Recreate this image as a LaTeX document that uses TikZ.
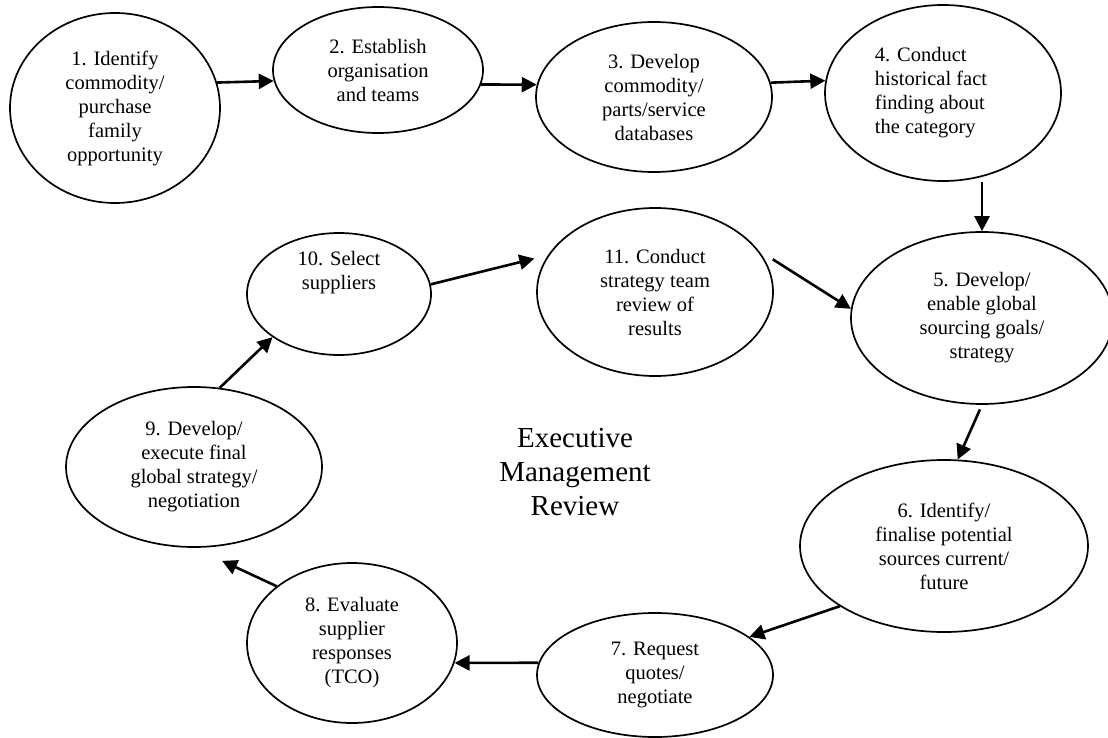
\documentclass[tikz,border=0pt]{standalone}
\usepackage{fontspec}
\setmainfont{Liberation Serif}
\usetikzlibrary{shapes.geometric,arrows.meta}
\begin{document}
\begin{tikzpicture}[x=1pt,y=-1pt,
  stage/.style={ellipse,draw,line width=1.7pt,inner sep=0pt,align=center,
    font=\fontsize{20.5}{24}\selectfont},
  flow/.style={line width=2.6pt,-{Triangle[length=15pt,width=15pt]}},
  hub/.style={align=center,font=\fontsize{29}{34}\selectfont}]
\useasboundingbox (0,0) rectangle (1108,738);
\clip (0,0) rectangle (1108,738);

% the eleven stages of the sourcing cycle
\node[stage,minimum width=210pt,minimum height=190pt] (s1) at (115,108)
  {1. Identify\\commodity/\\purchase\\family\\opportunity};
\node[stage,minimum width=210pt,minimum height=126pt] (s2) at (378,70)
  {2. Establish\\organisation\\and teams};
\node[stage,minimum width=236pt,minimum height=150pt] (s3) at (654,97)
  {3. Develop\\commodity/\\parts/service\\databases};
\node[stage,minimum width=236pt,minimum height=176pt,align=left] (s4) at (943,93)
  {4. Conduct\\historical fact\hspace*{24pt}\null\\finding about\\the category};
\node[stage,minimum width=262pt,minimum height=172pt] (s5) at (982,318)
  {5. Develop/\\enable global\\sourcing goals/\\strategy};
\node[stage,minimum width=288pt,minimum height=172pt] (s6) at (944,546)
  {6. Identify/\\finalise potential\\sources current/\\future};
\node[stage,minimum width=236pt,minimum height=124pt] (s7) at (655,675)
  {7. Request\\quotes/\\negotiate};
\node[stage,minimum width=210pt,minimum height=160pt] (s8) at (352,643)
  {8. Evaluate\\supplier\\responses\\(TCO)};
\node[stage,minimum width=256pt,minimum height=160pt] (s9) at (194,467)
  {9. Develop/\\execute final\\global strategy/\\negotiation};
\node[stage,minimum width=184pt,minimum height=122pt] (s10) at (339,294)
  {10. Select\\suppliers\\[24pt]};
\node[stage,minimum width=236pt,minimum height=168pt] (s11) at (655,292)
  {11. Conduct\\strategy team\\review of\\results};

% centre label
\node[hub] (emr) at (575,472) {Executive\\Management\\Review};

% connectors
\draw[flow] (s1.14) -- (s2.186.5);
\draw[flow] (s2.352) -- (s3.174);
\draw[flow] (s3.7) -- (s4.174);
\draw[flow] (s4.south -| s5.north) -- (s5.north);
\draw[flow,shorten <=5pt] (s5.south) -- (s6.81);
\draw[flow] (s6.210) -- (s7.22);
\draw[flow] (s7.174) -- (s8.349);
\draw[flow,shorten >=31pt] (s8.143) -- (s9.270);
\draw[flow] (s9.72) -- (s10.213);
\draw[flow,shorten >=14pt] (s10.6) -- (s11.161);
\draw[flow,shorten <=17pt] (s11.22) -- (s5.176);
\end{tikzpicture}
\end{document}
